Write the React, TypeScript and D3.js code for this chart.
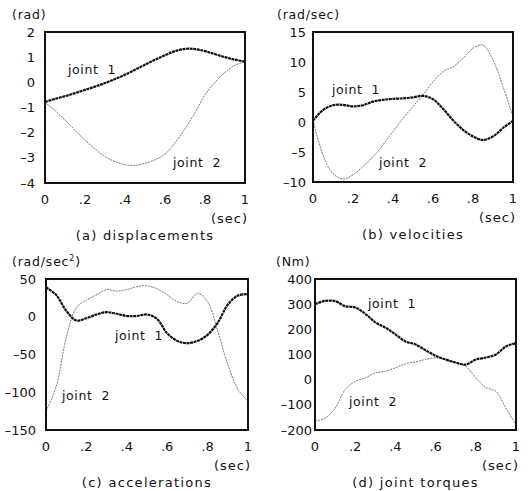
import React from "react";
import * as d3 from "d3";

// sample times (sec)
const times = [0, 0.05, 0.1, 0.15, 0.2, 0.25, 0.3, 0.35, 0.4, 0.45, 0.5, 0.55, 0.6, 0.65, 0.7, 0.75, 0.8, 0.85, 0.9, 0.95, 1];

// (a) displacements, rad
const dispJoint1 = [-0.78, -0.66, -0.55, -0.43, -0.3, -0.17, -0.03, 0.13, 0.3, 0.5, 0.7, 0.9, 1.08, 1.24, 1.33, 1.32, 1.24, 1.12, 1.0, 0.9, 0.82];
const dispJoint2 = [-0.8, -1.12, -1.5, -1.9, -2.3, -2.65, -2.95, -3.15, -3.27, -3.3, -3.22, -3.08, -2.85, -2.4, -1.85, -1.2, -0.5, 0.0, 0.4, 0.68, 0.82];

// (b) velocities, rad/sec
const velJoint1 = [0.2, 2.0, 2.8, 2.85, 2.6, 2.8, 3.4, 3.7, 3.85, 3.95, 4.1, 4.35, 3.8, 2.2, 0.3, -1.3, -2.4, -3.0, -2.4, -1.0, 0.2];
const velJoint2 = [0.3, -5.5, -8.6, -9.5, -8.8, -7.4, -5.8, -3.8, -1.6, 0.6, 2.6, 4.5, 6.7, 8.4, 9.2, 10.6, 12.3, 12.8, 10.3, 5.9, 0.9];

// (c) accelerations, rad/sec^2
const accJoint1 = [39, 29, 8, -5, -2, 3, 6, 4, 1, 1, 3, -3, -22, -32, -35, -32, -24, -8, 16, 28, 30];
const accJoint2 = [-125, -93, -28, 12, 22, 29, 36, 34, 36, 40, 41, 37, 29, 20, 18, 31, 20, -19, -63, -96, -112];

// (d) joint torques, Nm
const torJoint1 = [300, 313, 312, 292, 287, 262, 228, 207, 180, 152, 140, 117, 95, 80, 68, 60, 80, 88, 100, 132, 145];
const torJoint2 = [-164, -153, -113, -40, -7, 7, 27, 33, 47, 63, 71, 80, 87, 80, 67, 53, 7, -31, -47, -113, -180];

const xTicks = [0, 0.2, 0.4, 0.6, 0.8, 1];
const xTickLabels = ["0", ".2", ".4", ".6", ".8", "1"];

const FONT = "'DejaVu Sans', sans-serif";

interface PanelProps {
  x0: number;
  x1: number;
  y0: number;
  y1: number;
  domain: [number, number];
  yTicks: number[];
  yTickGap: number;
  unit: React.ReactNode;
  unitX: number;
  title: string;
  j1: number[];
  j2: number[];
  j1Label: [number, number];
  j2Label: [number, number];
}

const Panel: React.FC<PanelProps> = (p) => {
  const x = d3.scaleLinear().domain([0, 1]).range([p.x0, p.x1]);
  const y = d3.scaleLinear().domain(p.domain).range([p.y1, p.y0]);
  const line = d3
    .line<number>()
    .x((_, i) => x(times[i]))
    .y((d) => y(d))
    .curve(d3.curveCatmullRom.alpha(0.5));

  const fmt = (v: number) => (v < 0 ? "\u2013" + Math.abs(v) : String(v));

  return (
    <g fontFamily={FONT} fill="#111">
      <text x={p.unitX} y={p.y0 - 13} fontSize={12.5} letterSpacing={0.8}>
        {p.unit}
      </text>
      {p.yTicks.map((t) => (
        <text
          key={t}
          x={p.x0 - p.yTickGap}
          y={y(t)}
          dy="0.35em"
          textAnchor="end"
          fontSize={13}
        >
          {fmt(t)}
        </text>
      ))}
      {xTicks.map((t, i) => (
        <text
          key={t}
          x={x(t)}
          y={p.y1 + 16}
          dy="0.35em"
          textAnchor="middle"
          fontSize={13}
        >
          {xTickLabels[i]}
        </text>
      ))}
      <text
        x={p.x1 + 3}
        y={p.y1 + 35}
        dy="0.35em"
        textAnchor="end"
        fontSize={13}
        letterSpacing={1}
      >
        (sec)
      </text>
      <text
        x={(p.x0 + p.x1) / 2}
        y={p.y1 + 52}
        dy="0.35em"
        textAnchor="middle"
        fontSize={13}
        letterSpacing={1.3}
      >
        {p.title}
      </text>
      <path
        d={line(p.j2) || ""}
        fill="none"
        stroke="#666"
        strokeWidth={0.9}
        strokeDasharray="2,1"
      />
      <path
        d={line(p.j1) || ""}
        fill="none"
        stroke="#111"
        strokeWidth={2.2}
        strokeDasharray="3,0.6"
      />
      <rect
        x={p.x0}
        y={p.y0}
        width={p.x1 - p.x0}
        height={p.y1 - p.y0}
        fill="none"
        stroke="#111"
        strokeWidth={2}
      />
      <text x={p.j1Label[0]} y={p.j1Label[1]} fontSize={12.5} letterSpacing={0.6}>
        {"joint\u00a0\u00a01"}
      </text>
      <text x={p.j2Label[0]} y={p.j2Label[1]} fontSize={12.5} letterSpacing={0.6}>
        {"joint\u00a0\u00a02"}
      </text>
    </g>
  );
};

export default function App() {
  return (
    <svg
      width={528}
      height={491}
      style={{ position: "absolute", left: 0, top: 0, background: "#fff" }}
    >
      <rect width={528} height={491} fill="#fff" />
      <Panel
        x0={45}
        x1={245}
        y0={32}
        y1={183}
        domain={[-4, 2]}
        yTicks={[2, 1, 0, -1, -2, -3, -4]}
        yTickGap={10}
        unit="(rad)"
        unitX={12}
        title="(a) displacements"
        j1={dispJoint1}
        j2={dispJoint2}
        j1Label={[68, 74]}
        j2Label={[173, 167]}
      />
      <Panel
        x0={313}
        x1={513}
        y0={32}
        y1={182}
        domain={[-10, 15]}
        yTicks={[15, 10, 5, 0, -5, -10]}
        yTickGap={7}
        unit="(rad/sec)"
        unitX={277}
        title="(b) velocities"
        j1={velJoint1}
        j2={velJoint2}
        j1Label={[332, 94]}
        j2Label={[379, 167]}
      />
      <Panel
        x0={46}
        x1={248}
        y0={279}
        y1={430}
        domain={[-150, 50]}
        yTicks={[50, 0, -50, -100, -150]}
        yTickGap={10}
        unit={
          <>
            (rad/sec
            <tspan dy={-5} fontSize={8}>
              2
            </tspan>
            <tspan dy={5}>)</tspan>
          </>
        }
        unitX={12}
        title="(c) accelerations"
        j1={accJoint1}
        j2={accJoint2}
        j1Label={[115, 340]}
        j2Label={[62, 400]}
      />
      <Panel
        x0={315}
        x1={516}
        y0={279}
        y1={430}
        domain={[-200, 400]}
        yTicks={[400, 300, 200, 100, 0, -100, -200]}
        yTickGap={3}
        unit="(Nm)"
        unitX={276}
        title="(d) joint torques"
        j1={torJoint1}
        j2={torJoint2}
        j1Label={[368, 308]}
        j2Label={[349, 406]}
      />
    </svg>
  );
}
